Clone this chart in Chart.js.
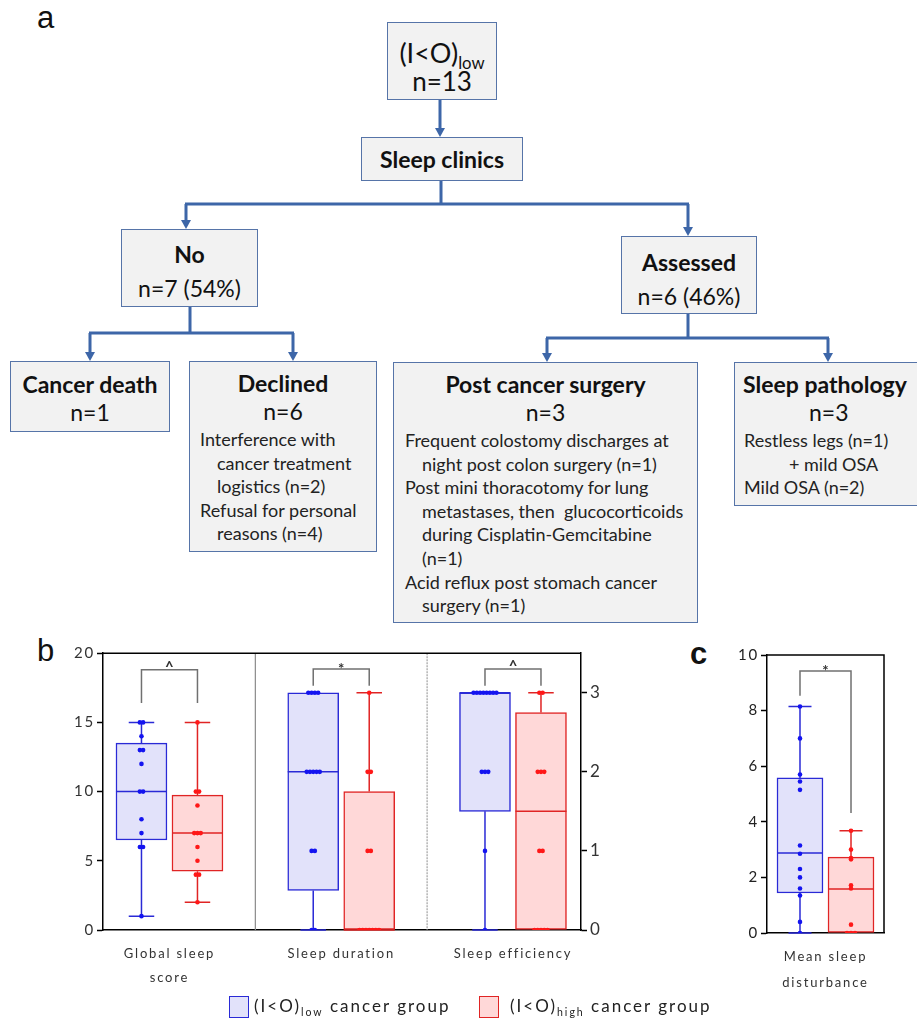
<!DOCTYPE html>
<html>
<head>
<meta charset="utf-8">
<script src="https://cdn.jsdelivr.net/npm/chart.js@4.4.0/dist/chart.umd.min.js"></script>
<style>
  body { margin: 0; background: #fff; font-family: Lato, "Open Sans", sans-serif; }
  #page { position: relative; width: 917px; height: 1021px; overflow: hidden; }
  .panel { position: absolute; font-family: "Liberation Sans", Arial, sans-serif; font-size: 31px; color: #111; }
  .box { position: absolute; background: #f2f2f2; border: 1.5px solid #5674a8; box-sizing: border-box; color: #111; text-align: center; white-space: nowrap; }
  .hd { font-weight: bold; font-size: 23px; line-height: 28px; }
  .n { font-size: 23px; line-height: 28px; }
  .body { text-align: left; font-size: 18px; line-height: 23.6px; color: #222; margin-top: 3px; }
  .body div { padding-left: 17px; text-indent: -17px; }
  sub { font-size: 62%; vertical-align: -0.35em; line-height: 0; }
  canvas { position: absolute; }
  .legend { position: absolute; top: 995px; font-family: Lato, sans-serif; font-size: 17px; letter-spacing: 2px; color: #222; }
  .sw { position: absolute; width: 20px; height: 22px; box-sizing: border-box; }
</style>
</head>
<body>
<div id="page">
  <div class="panel" style="left:37px;top:0px;">a</div>
  <div class="panel" style="left:37px;top:633px;">b</div>
  <div class="panel" style="left:690px;top:636px;font-weight:bold;">c</div>

  <svg width="917" height="370" style="position:absolute;left:0;top:0">
    <g stroke="#3d66a8" stroke-width="3" fill="none">
      <path d="M440 100 V129"/>
      <path d="M441 181 V204 M185 204 H689 M186 204 V221 M688 204 V228"/>
      <path d="M190 307 V333 M89 333 H294 M90 333 V353 M293 333 V353"/>
      <path d="M688 314 V338 M546 338 H829 M547 338 V354 M828 338 V354"/>
    </g>
    <g fill="#3d66a8">
      <polygon points="435,128 445,128 440,137"/>
      <polygon points="181,220 191,220 186,229"/>
      <polygon points="683,227 693,227 688,236"/>
      <polygon points="85,352 95,352 90,361"/>
      <polygon points="288,352 298,352 293,361"/>
      <polygon points="542,353 552,353 547,362"/>
      <polygon points="823,353 833,353 828,362"/>
    </g>
  </svg>

  <div class="box" style="left:387px;top:22px;width:110px;height:78px;padding-top:16px;">
    <div style="font-size:27px;line-height:28px;">(I&lt;O)<sub>low</sub></div>
    <div style="font-size:26px;line-height:28px;">n=13</div>
  </div>
  <div class="box" style="left:361px;top:137px;width:162px;height:44px;">
    <div class="hd" style="line-height:42px;">Sleep clinics</div>
  </div>
  <div class="box" style="left:121px;top:229px;width:137px;height:78px;padding-top:7px;">
    <div class="hd" style="line-height:34px;">No</div>
    <div class="n" style="line-height:34px;">n=7 (54%)</div>
  </div>
  <div class="box" style="left:621px;top:236px;width:136px;height:78px;padding-top:8px;">
    <div class="hd" style="line-height:34px;">Assessed</div>
    <div class="n" style="line-height:34px;">n=6 (46%)</div>
  </div>
  <div class="box" style="left:10px;top:361px;width:160px;height:71px;padding-top:8px;">
    <div class="hd">Cancer death</div>
    <div class="n">n=1</div>
  </div>
  <div class="box" style="left:189px;top:361px;width:188px;height:191px;padding-top:7px;">
    <div class="hd">Declined</div>
    <div class="n">n=6</div>
    <div class="body" style="padding-left:10px;">
      <div>Interference with<br>cancer treatment<br>logistics (n=2)</div>
      <div>Refusal for personal<br>reasons (n=4)</div>
    </div>
  </div>
  <div class="box" style="left:393px;top:362px;width:305px;height:261px;padding-top:7px;">
    <div class="hd">Post cancer surgery</div>
    <div class="n">n=3</div>
    <div class="body" style="padding-left:11px;">
      <div>Frequent colostomy discharges at<br>night post colon surgery (n=1)</div>
      <div>Post mini thoracotomy for lung<br>metastases, then&nbsp; glucocorticoids<br>during Cisplatin-Gemcitabine<br>(n=1)</div>
      <div>Acid reflux post stomach cancer<br>surgery (n=1)</div>
    </div>
  </div>
  <div class="box" style="left:734px;top:362px;width:190px;height:144px;padding-top:7px;">
    <div class="hd" style="text-align:left;padding-left:8px;">Sleep pathology</div>
    <div class="n" style="text-align:left;padding-left:74px;">n=3</div>
    <div class="body" style="padding-left:9px;">
      <div>Restless legs (n=1)</div>
      <div style="padding-left:45px;text-indent:0;">+ mild OSA</div>
      <div>Mild OSA (n=2)</div>
    </div>
  </div>

  <canvas id="chartB" width="560" height="360" style="left:50px;top:640px;width:560px;height:360px;"></canvas>
  <canvas id="chartC" width="197" height="360" style="left:720px;top:640px;width:197px;height:360px;"></canvas>

  <div class="sw" style="left:229px;top:996px;background:#e2e2fa;border:1.5px solid #2a2ad6;"></div>
  <div class="legend" style="left:254px;">(I&lt;O)<sub>low</sub> cancer group</div>
  <div class="sw" style="left:479px;top:996px;background:#ffd8d8;border:1.5px solid #e02424;"></div>
  <div class="legend" style="left:510px;">(I&lt;O)<sub>high</sub> cancer group</div>
</div>

<script>
// ---- panel b data ----
const catPos = [1, 2, 3];
const catLabels = [["Global sleep", "score"], "Sleep duration", "Sleep efficiency"];
// box stats: [min, q1, median, q3, max]
const lowStats = [[1, 6.5, 10, 13.5, 15], [0, 0.5, 2, 3, 3], [0, 1.5, 3, 3, 3]];
const highStats = [[2, 4.25, 7, 9.75, 15], [0, 0, 0, 1.75, 3], [0, 0, 1.5, 2.75, 3]];
const lowPoints = [
  [15, 15, 14, 13, 13, 12, 10, 10, 8, 7, 6, 6, 1],
  [3, 3, 3, 3, 2, 2, 2, 2, 2, 1, 1, 0, 0],
  [3, 3, 3, 3, 3, 3, 3, 3, 2, 2, 2, 1, 0]
];
const highPoints = [
  [15, 10, 10, 9, 7, 7, 7, 6, 5, 4, 4, 2],
  [3, 2, 2, 1, 1, 0, 0, 0, 0, 0, 0, 0],
  [3, 3, 2, 2, 2, 1, 1, 0, 0, 0, 0, 0]
];
const sigB = ["^", "*", "^"];
const bracketB = [[18.8, 16.4, 16.4], [3.3, 3.09, 3.09], [3.3, 3.09, 3.09]]; // [top, left leg end, right leg end]
const leftTicks = [0, 5, 10, 15, 20];
const rightTicks = [0, 1, 2, 3];

// ---- panel c data ----
const catC = ["Mean sleep", "disturbance"];
const lowStatsC = [0, 1.44, 2.88, 5.58, 8.15];
const highStatsC = [0, 0, 1.58, 2.73, 3.68];
const lowPointsC = [8.15, 7.0, 5.7, 5.45, 5.15, 3.15, 2.85, 2.3, 2.0, 1.6, 1.35, 0.4, 0];
const highPointsC = [3.68, 3.0, 2.7, 2.65, 1.72, 1.6, 0.3, 0, 0, 0];
const bracketC = [9.42, 8.53, 4.32];
const sigC = "*";
const ticksC = [0, 2, 4, 6, 8, 10];

const BLUE = "#2a2ad6", BLUE_FILL = "rgba(226,226,250,1)", BLUE_PT = "#1414f0";
const RED = "#e02424", RED_FILL = "rgba(255,216,216,1)", RED_PT = "#ff1818";

function swarm(vals, center, step) {
  const count = {}, used = {};
  vals.forEach(v => count[v] = (count[v] || 0) + 1);
  return vals.map(v => {
    used[v] = (used[v] || 0) + 1;
    return { x: center + (used[v] - 1 - (count[v] - 1) / 2) * step, y: v };
  });
}

// whiskers, caps, medians, brackets, dividers, frame
const boxExtras = {
  id: "boxExtras",
  beforeDraw(chart) { chart.ctx.letterSpacing = "1.8px"; },
  beforeDatasetsDraw(chart, args, opts) {
    const { ctx, chartArea, scales } = chart;
    ctx.save();
    (opts.dividers || []).forEach(d => {
      const px = scales.x.getPixelForValue(d.x);
      ctx.strokeStyle = d.dash ? "#a0a0a0" : "#8a8a8a";
      ctx.lineWidth = 1.2;
      ctx.setLineDash(d.dash ? [2, 1] : []);
      ctx.beginPath(); ctx.moveTo(px, chartArea.top); ctx.lineTo(px, chartArea.bottom); ctx.stroke();
    });
    ctx.setLineDash([]);
    chart.data.datasets.forEach(ds => {
      if (!ds.boxes) return;
      const y = scales[ds.yAxisID];
      ds.boxes.forEach(b => {
        const cx = scales.x.getPixelForValue(b.x);
        const half = ds.barThickness / 4;
        const [mn, q1, , q3, mx] = b.stats;
        ctx.strokeStyle = ds.borderColor;
        ctx.lineWidth = 1.5;
        ctx.beginPath();
        if (mn < q1) {
          ctx.moveTo(cx, y.getPixelForValue(q1)); ctx.lineTo(cx, y.getPixelForValue(mn));
          ctx.moveTo(cx - half, y.getPixelForValue(mn)); ctx.lineTo(cx + half, y.getPixelForValue(mn));
        }
        if (mx > q3) {
          ctx.moveTo(cx, y.getPixelForValue(q3)); ctx.lineTo(cx, y.getPixelForValue(mx));
          ctx.moveTo(cx - half, y.getPixelForValue(mx)); ctx.lineTo(cx + half, y.getPixelForValue(mx));
        }
        ctx.stroke();
      });
    });
    (opts.brackets || []).forEach(br => {
      const y = scales[br.axis];
      const x1 = scales.x.getPixelForValue(br.x1), x2 = scales.x.getPixelForValue(br.x2);
      const yt = y.getPixelForValue(br.top);
      ctx.strokeStyle = "#707070";
      ctx.lineWidth = 1.5;
      ctx.beginPath();
      ctx.moveTo(x1, y.getPixelForValue(br.leg1)); ctx.lineTo(x1, yt);
      ctx.lineTo(x2, yt); ctx.lineTo(x2, y.getPixelForValue(br.leg2));
      ctx.stroke();
      ctx.fillStyle = "#333";
      ctx.font = "bold 15px Lato, sans-serif";
      ctx.textAlign = "center";
      ctx.textBaseline = "alphabetic";
      ctx.letterSpacing = "0px";
      ctx.fillText(br.text, (x1 + x2) / 2, yt + (br.text === "*" ? 5 : 2));
    });
    ctx.restore();
  },
  afterDatasetDraw(chart, args) {
    const ds = chart.data.datasets[args.index];
    if (!ds.boxes) return;
    const { ctx, scales } = chart;
    const y = scales[ds.yAxisID];
    ctx.save();
    ctx.strokeStyle = ds.borderColor;
    ctx.lineWidth = 1.5;
    ds.boxes.forEach(b => {
      const cx = scales.x.getPixelForValue(b.x);
      const half = ds.barThickness / 2;
      const py = y.getPixelForValue(b.stats[2]);
      ctx.beginPath(); ctx.moveTo(cx - half, py); ctx.lineTo(cx + half, py); ctx.stroke();
    });
    ctx.restore();
  },
  afterDraw(chart, args, opts) {
    const { ctx, chartArea } = chart;
    ctx.save();
    ctx.strokeStyle = "#000";
    ctx.lineWidth = 1.5;
    ctx.beginPath();
    ctx.moveTo(chartArea.left, chartArea.top); ctx.lineTo(chartArea.right, chartArea.top);
    if (opts.rightFrame) ctx.lineTo(chartArea.right, chartArea.bottom);
    ctx.stroke();
    ctx.restore();
  }
};

function boxDataset(boxes, axis, stroke, fill, thick) {
  return {
    type: "bar", order: 2, yAxisID: axis, boxes: boxes,
    data: boxes.map(b => ({ x: b.x, y: [b.stats[1], b.stats[3]] })),
    backgroundColor: fill, borderColor: stroke, borderWidth: 1.5, borderSkipped: false,
    barThickness: thick, grouped: false
  };
}
function pointDataset(pts, axis, color) {
  return { type: "scatter", order: 1, yAxisID: axis, data: pts, pointRadius: 2.3, pointBorderWidth: 0,
           backgroundColor: color, borderColor: color };
}

// ---- chart b ----
const offB = 0.163, stepB = 0.019, thickB = 51;
const bDatasets = [];
catPos.forEach((p, i) => {
  const axis = i === 0 ? "yL" : "yR";
  bDatasets.push(pointDataset(swarm(lowPoints[i], p - offB, stepB), axis, BLUE_PT));
  bDatasets.push(pointDataset(swarm(highPoints[i], p + offB, stepB), axis, RED_PT));
  bDatasets.push(boxDataset([{ x: p - offB, stats: lowStats[i] }], axis, BLUE, BLUE_FILL, thickB));
  bDatasets.push(boxDataset([{ x: p + offB, stats: highStats[i] }], axis, RED, RED_FILL, thickB));
});

new Chart(document.getElementById("chartB"), {
  type: "bar",
  data: { datasets: bDatasets },
  options: {
    responsive: false, animation: false,
    layout: { padding: { top: 13, left: 10, right: 6, bottom: 0 } },
    plugins: {
      legend: { display: false }, tooltip: { enabled: false },
      boxExtras: {
        dividers: [{ x: 1.5, dash: false }, { x: 2.5, dash: true }],
        brackets: catPos.map((p, i) => ({
          x1: p - offB, x2: p + offB, top: bracketB[i][0], leg1: bracketB[i][1], leg2: bracketB[i][2],
          axis: i === 0 ? "yL" : "yR", text: sigB[i]
        }))
      }
    },
    scales: {
      x: {
        type: "linear", min: 0.613, max: 3.396, offset: false,
        grid: { display: false }, border: { color: "#000", width: 1.5 },
        afterBuildTicks: s => { s.ticks = catPos.map(v => ({ value: v })); },
        afterFit: s => { s.height = 70; },
        ticks: { callback: v => catLabels[catPos.indexOf(v)], autoSkip: false, maxRotation: 0,
                 padding: 4, color: "#333", font: { family: "Lato, sans-serif", size: 13, lineHeight: 1.85 } }
      },
      yL: {
        position: "left", min: 0, max: 20,
        afterBuildTicks: s => { s.ticks = leftTicks.map(v => ({ value: v })); },
        afterFit: s => { s.width = 43; },
        grid: { drawOnChartArea: false, tickLength: 6, color: "#000", tickWidth: 1.5 },
        border: { color: "#000", width: 1.5 },
        ticks: { color: "#333", padding: 2, font: { family: "Lato, sans-serif", size: 15 } }
      },
      yR: {
        position: "right", min: 0, max: 3.5,
        afterBuildTicks: s => { s.ticks = rightTicks.map(v => ({ value: v })); },
        afterFit: s => { s.width = 23; },
        grid: { drawOnChartArea: false, tickLength: 6, color: "#000", tickWidth: 1.5 },
        border: { color: "#000", width: 1.5 },
        ticks: { color: "#333", padding: 3, font: { family: "Lato, sans-serif", size: 17 } }
      }
    }
  },
  plugins: [boxExtras]
});

// ---- chart c ----
const offC = 0.218, stepC = 0.034, thickC = 46;
new Chart(document.getElementById("chartC"), {
  type: "bar",
  data: {
    datasets: [
      pointDataset(swarm(lowPointsC, 1 - offC, stepC), "y", BLUE_PT),
      pointDataset(swarm(highPointsC, 1 + offC, stepC), "y", RED_PT),
      boxDataset([{ x: 1 - offC, stats: lowStatsC }], "y", BLUE, BLUE_FILL, thickC),
      boxDataset([{ x: 1 + offC, stats: highStatsC }], "y", RED, RED_FILL, thickC)
    ]
  },
  options: {
    responsive: false, animation: false,
    layout: { padding: { top: 15, left: 10, right: 33, bottom: 0 } },
    plugins: {
      legend: { display: false }, tooltip: { enabled: false },
      boxExtras: {
        rightFrame: true,
        brackets: [{ x1: 1 - offC, x2: 1 + offC, top: bracketC[0], leg1: bracketC[1], leg2: bracketC[2], axis: "y", text: sigC }]
      }
    },
    scales: {
      x: {
        type: "linear", min: 0.5, max: 1.5, offset: false,
        grid: { display: false }, border: { color: "#000", width: 1.5 },
        afterBuildTicks: s => { s.ticks = [{ value: 1 }]; },
        afterFit: s => { s.height = 67; },
        ticks: { callback: () => catC, autoSkip: false, maxRotation: 0,
                 padding: 3, color: "#333", font: { family: "Lato, sans-serif", size: 13, lineHeight: 2 } }
      },
      y: {
        position: "left", min: 0, max: 10,
        afterBuildTicks: s => { s.ticks = ticksC.map(v => ({ value: v })); },
        afterFit: s => { s.width = 37; },
        grid: { drawOnChartArea: false, tickLength: 6, color: "#000", tickWidth: 1.5 },
        border: { color: "#000", width: 1.5 },
        ticks: { color: "#222", padding: 2, font: { family: "Lato, sans-serif", size: 15 } }
      }
    }
  },
  plugins: [boxExtras]
});
</script>
</body>
</html>
